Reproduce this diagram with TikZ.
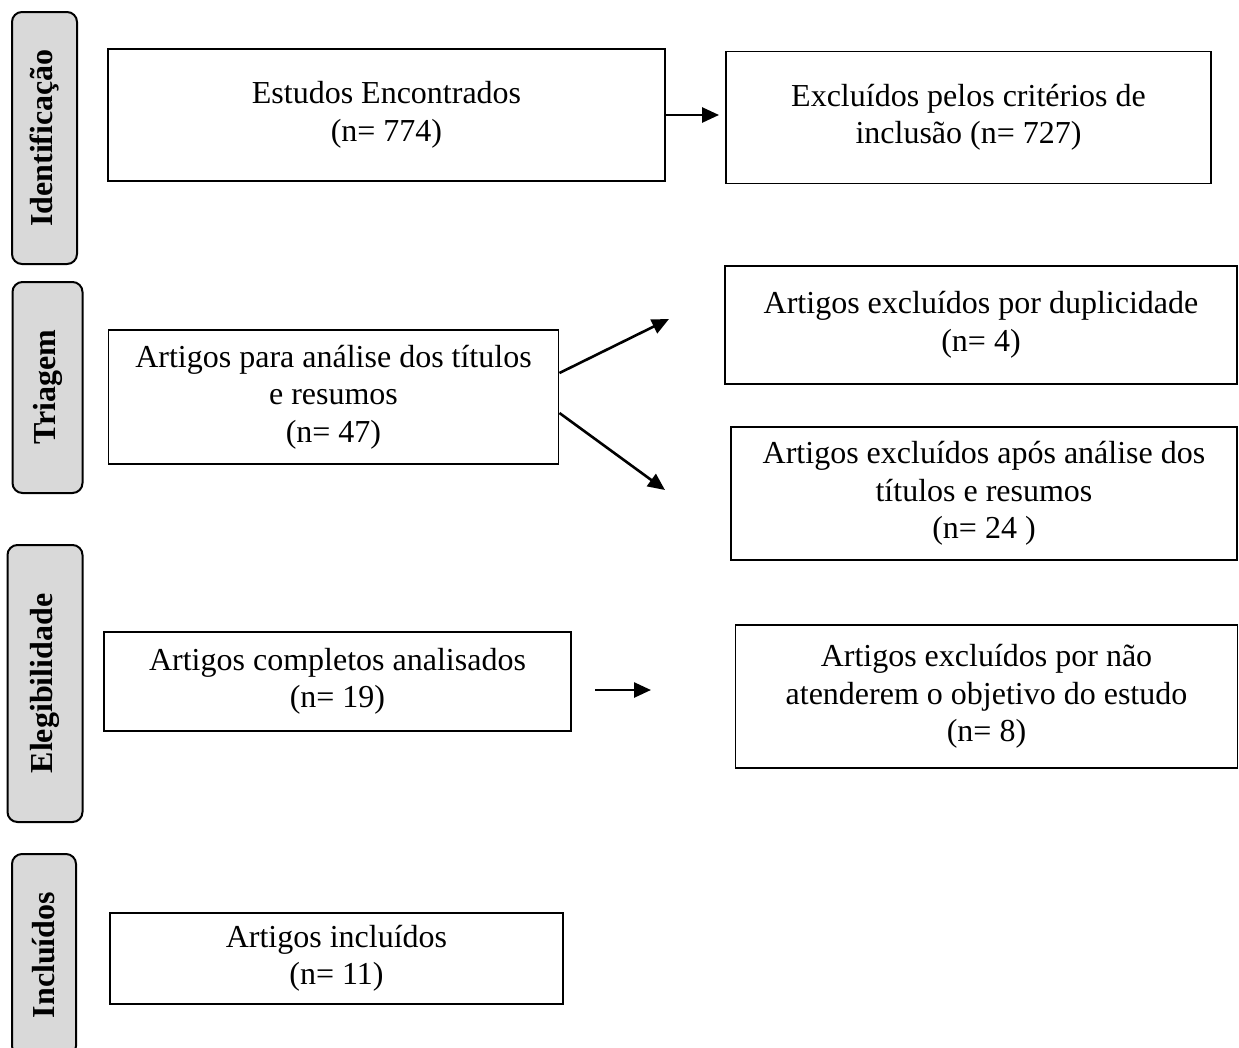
\documentclass[tikz,border=0pt]{standalone}
\usepackage{fontspec}
\setmainfont{Liberation Serif}
\usetikzlibrary{arrows.meta}
\begin{document}
\begin{tikzpicture}[
x=1pt, y=-1pt,
>={Triangle[length=17pt,width=15pt]},
thing/.style={rectangle,draw,line width=1.9pt,align=center,inner sep=0pt,font=\fontsize{32}{37.5}\selectfont},
phase/.style={rectangle,draw,rounded corners=10pt,line width=2pt,fill=black!15,rotate=90,inner sep=0pt,font=\fontsize{32}{36}\selectfont\bfseries},
line/.style={draw,->,line width=2.6pt}
]
\useasboundingbox (0,0) rectangle (1239,1047);

\node[phase,minimum width=252,minimum height=65] (p1) at (44.5,138) {Identificação};
\node[phase,minimum width=211,minimum height=70] (p2) at (47.5,387.5) {Triagem};
\node[phase,minimum width=277,minimum height=75] (p3) at (45,683.5) {Elegibilidade};
\node[phase,minimum width=202,minimum height=64] (p4) at (44,955) {Incluídos};

\node[thing,minimum width=557,minimum height=132] (1) at (386.5,115) {Estudos Encontrados\\(n= 774)};
\node[thing,minimum width=485,minimum height=132] (2) at (968.5,117.5) {Excluídos pelos critérios de\\inclusão (n= 727)};
\node[thing,minimum width=450,minimum height=134] (3) at (333.5,397) {Artigos para análise dos títulos\\e resumos\\(n= 47)};
\node[thing,minimum width=512,minimum height=118] (4) at (981,325) {Artigos excluídos por duplicidade\\(n= 4)};
\node[thing,minimum width=506,minimum height=133] (5) at (984,493.5) {Artigos excluídos após análise dos\\títulos e resumos\\(n= 24 )};
\node[thing,minimum width=467,minimum height=99] (6) at (337.5,681.5) {Artigos completos analisados\\(n= 19)};
\node[thing,minimum width=502,minimum height=143] (7) at (986.5,696.5) {Artigos excluídos por não\\atenderem o objetivo do estudo\\(n= 8)};
\node[thing,minimum width=453,minimum height=91] (8) at (336.5,958.5) {Artigos incluídos\\(n= 11)};

\coordinate (c4) at (669,319);
\coordinate (c5) at (665,490);
\coordinate (a7) at (595,690);
\coordinate (c7) at (651,690);

\path[line,shorten >=6pt] (1.east) -- (1.east -| 2.west);
\path[line] ([yshift=24pt]3.east) -- (c4);
\path[line] ([yshift=-16pt]3.east) -- (c5);
\path[line] (a7) -- (c7);

\end{tikzpicture}
\end{document}
